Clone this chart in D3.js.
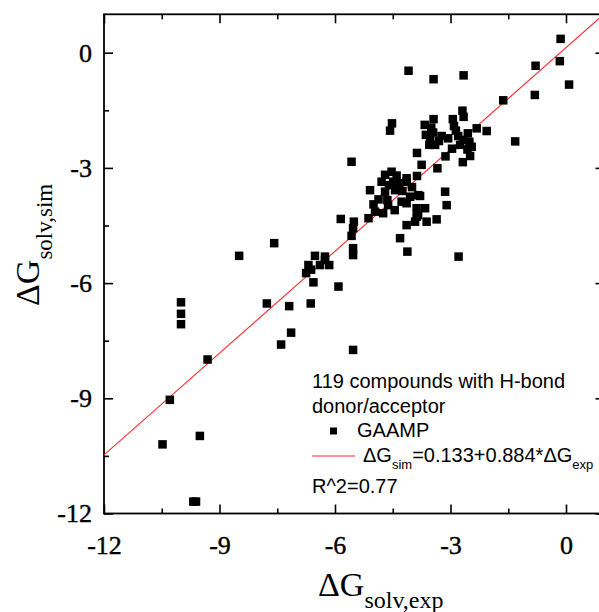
<!DOCTYPE html>
<html>
<head>
<meta charset="utf-8">
<script src="https://cdn.jsdelivr.net/npm/d3@7"></script>
<style>
  body { margin: 0; background: #fff; }
  svg { display: block; }
  .axis path { display: none; }
  .axis line { stroke: #000; stroke-width: 1.6; }
</style>
</head>
<body>
<svg id="chart" width="599" height="612"></svg>
<script>
"use strict";

var dgExp = [
  -0.14, -0.16, -0.79, 0.08, -0.81, -1.63, -2.32, -2.06, -1.32, -4.09, -3.44, -2.66,
  -2.69, -2.66, -3.44, -3.67, -2.94, -2.91, -2.86, -4.52, -4.57, -3.64, -3.45, -3.53,
  -3.40, -3.23, -3.06, -2.80, -2.67, -2.51, -2.56, -2.49, -2.68, -2.96, -3.13, -3.87,
  -3.75, -3.34, -5.57, -3.87, -4.53, -4.70, -4.14, -3.55, -2.55, -2.45, -3.30,
  -4.79, -4.49, -4.33, -4.44, -4.70, -5.09, -4.87, -4.64, -4.14, -4.05, -3.84, -4.14,
  -3.88, -3.88, -4.14, -4.96, -4.75, -5.13, -5.85, -5.51, -5.53, -5.57, -4.31, -4.12,
  -5.53, -5.53, -3.36, -3.62, -3.84, -3.92, -3.66, -3.14, -3.10, -3.79, -4.27, -4.62,
  -4.40, -4.60, -2.79,
  -6.52, -6.26, -7.58, -8.49, -6.26, -6.15, -6.39, -6.69, -6.75, -6.62, -6.56, -5.91,
  -7.77, -7.19, -6.63, -7.14, -7.40, -5.53, -10.0, -10.0, -10.0, -9.31, -10.29, -10.48,
  -9.51, -9.68, -9.61,
  -4.00, -4.25, -3.50, -2.75, -5.00, -4.45
];
var dgSim = [
  0.36, -0.22, -0.34, -0.83, -1.10, -1.24, -1.97, -2.04, -2.31, -0.47, -0.69, -0.59,
  -1.51, -1.67, -1.73, -1.88, -1.73, -1.91, -2.03, -1.84, -2.03, -2.14, -2.08, -2.27,
  -2.40, -2.17, -2.23, -2.17, -2.27, -2.32, -2.52, -2.69, -2.85, -2.50, -2.70, -2.61,
  -2.92, -3.01, -2.84, -3.21, -3.10, -3.18, -3.27, -2.40, -2.10, -2.45, -2.30,
  -3.36, -3.36, -3.40, -3.58, -3.62, -3.58, -3.82, -3.84, -3.36, -3.75, -3.71, -3.92,
  -4.05, -4.27, -4.49, -4.14, -4.18, -4.31, -4.33, -4.40, -4.57, -4.77, -4.83, -5.18,
  -5.09, -5.27, -4.34, -4.40, -4.23, -4.40, -4.05, -3.62, -3.97, -3.73, -3.88, -3.97,
  -3.20, -3.45, -5.31,
  -5.29, -5.31, -4.96, -5.29, -5.40, -5.53, -5.53, -5.53, -5.74, -5.65, -5.98, -6.09,
  -6.53, -6.60, -6.53, -7.29, -7.60, -7.74, -6.50, -6.80, -7.07, -7.99, -9.04, -10.20,
  -9.98, -11.69, -11.69,
  -3.50, -3.60, -1.95, -2.40, -3.95, -4.10
];

var majorTicks = [-12, -9, -6, -3, 0];
var minorTicks = [-10.5, -7.5, -4.5, -1.5];
var fitIntercept = 0.133, fitSlope = 0.884;
var legendLines = ["119 compounds with H-bond", "donor/acceptor"];
var seriesName = "GAAMP";
var r2Text = "R^2=0.77";

var serif = "'Liberation Serif', 'Times New Roman', serif";
var sans = "'Liberation Sans', Arial, sans-serif";

var svg = d3.select("#chart");
var L = 104, R = 604.5, T = 14.3, B = 513.5;

var x = d3.scaleLinear().domain([-12, 1]).range([L, R]);
var y = d3.scaleLinear().domain([-12, 1]).range([B, T]);

svg.append("defs").append("clipPath").attr("id", "plotclip")
   .append("rect").attr("x", L).attr("y", T).attr("width", R - L).attr("height", B - T);

// ticks, all pointing inward
function addAxis(gen, tx, ty, vals, size, labels) {
  var g = svg.append("g")
    .attr("class", "axis")
    .attr("transform", "translate(" + tx + "," + ty + ")")
    .call(gen.tickValues(vals).tickSizeInner(size).tickSizeOuter(0)
             .tickFormat(labels ? d3.format("d") : ""));
  g.attr("font-family", serif).attr("font-size", 26);
  g.selectAll("text")
   .style("font-family", serif)
   .style("font-size", "26px")
   .attr("fill", "#000")
   .attr("stroke", "#000").attr("stroke-width", 0.4);
  return g;
}
var xb = addAxis(d3.axisBottom(x), 0, B, majorTicks, -9, true);
xb.selectAll("text").attr("y", 22).attr("dy", "0.71em").text(d => d < 0 ? "-" + Math.abs(d) : d);
addAxis(d3.axisBottom(x), 0, B, minorTicks, -5, false);
addAxis(d3.axisTop(x), 0, T, majorTicks, -9, false);
addAxis(d3.axisTop(x), 0, T, minorTicks, -5, false);
var yl = addAxis(d3.axisLeft(y), L, 0, majorTicks, -9, true);
yl.selectAll("text").attr("x", -12).text(d => d < 0 ? "-" + Math.abs(d) : d);
addAxis(d3.axisLeft(y), L, 0, minorTicks, -5, false);
addAxis(d3.axisRight(y), R, 0, majorTicks, -9, false);
addAxis(d3.axisRight(y), R, 0, minorTicks, -5, false);

svg.append("rect")
   .attr("x", L).attr("y", T).attr("width", R - L).attr("height", B - T)
   .attr("fill", "none").attr("stroke", "#000").attr("stroke-width", 1.8);

// fit line
var plot = svg.append("g").attr("clip-path", "url(#plotclip)");
plot.append("line")
    .attr("x1", x(-12)).attr("y1", y(fitIntercept + fitSlope * -12))
    .attr("x2", x(1)).attr("y2", y(fitIntercept + fitSlope * 1))
    .attr("stroke", "#ff2a2a").attr("stroke-width", 1.1);

// points
var ms = 8.5;
plot.selectAll("rect.pt")
    .data(d3.range(dgExp.length))
    .enter().append("rect")
    .attr("class", "pt")
    .attr("x", i => x(dgExp[i]) - ms / 2)
    .attr("y", i => y(dgSim[i]) - ms / 2)
    .attr("width", ms).attr("height", ms)
    .attr("fill", "#000");

// axis titles
var xt = svg.append("text").attr("x", 318).attr("y", 596)
   .style("font-family", serif).style("font-size", "34px");
xt.append("tspan").text("\u0394G");
xt.append("tspan").attr("dy", 12).style("font-size", "24px").text("solv,exp");

var yt = svg.append("text")
   .attr("transform", "translate(39,306) rotate(-90)")
   .style("font-family", serif).style("font-size", "34px");
yt.append("tspan").text("\u0394G");
yt.append("tspan").attr("dy", 13).style("font-size", "23px").text("solv,sim");

// legend
var lg = svg.append("g").style("font-family", sans).style("font-size", "20px");
lg.selectAll("text.hdr")
  .data(legendLines)
  .enter().append("text")
  .attr("class", "hdr")
  .attr("x", 312).attr("y", (d, i) => 388 + i * 25)
  .text(d => d);
lg.append("rect").attr("x", 330).attr("y", 427.5).attr("width", 7).attr("height", 7).attr("fill", "#000");
lg.append("text").attr("x", 357).attr("y", 437).text(seriesName);
lg.append("line").attr("x1", 312).attr("x2", 355).attr("y1", 456).attr("y2", 456)
  .attr("stroke", "#ff2a2a").attr("stroke-width", 1.1);
var eq = lg.append("text").attr("x", 363).attr("y", 462);
eq.append("tspan").text("\u0394G");
eq.append("tspan").attr("dy", 7).style("font-size", "13px").text("sim");
eq.append("tspan").attr("dy", -7).text("=" + fitIntercept + "+" + fitSlope + "*\u0394G");
eq.append("tspan").attr("dy", 7).style("font-size", "13px").text("exp");
lg.append("text").attr("x", 312).attr("y", 493).text(r2Text);
</script>
</body>
</html>
